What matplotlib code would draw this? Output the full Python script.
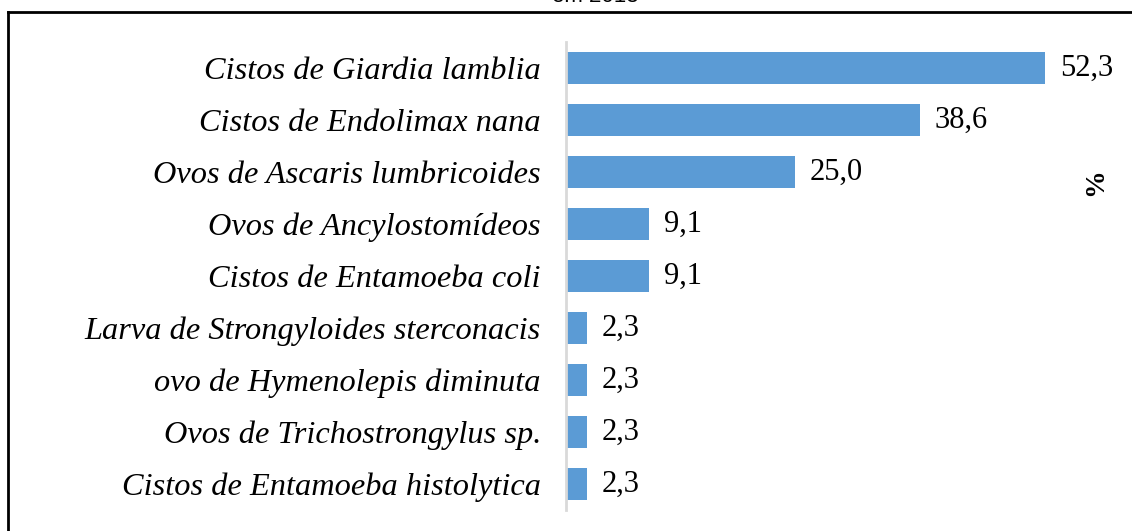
import matplotlib.pyplot as plt
from matplotlib.lines import Line2D

categorias = ["Cistos de Giardia lamblia", "Cistos de Endolimax nana",
              "Ovos de Ascaris lumbricoides", "Ovos de Ancylostomídeos",
              "Cistos de Entamoeba coli", "Larva de Strongyloides sterconacis",
              "ovo de Hymenolepis diminuta", "Ovos de Trichostrongylus sp.",
              "Cistos de Entamoeba histolytica"]
valores = [52.3, 38.6, 25.0, 9.1, 9.1, 2.3, 2.3, 2.3, 2.3]
rotulos = ["52,3", "38,6", "25,0", "9,1", "9,1", "2,3", "2,3", "2,3", "2,3"]

W, H = 1132, 531
fig = plt.figure(figsize=(W / 100, H / 100), dpi=100)

# axes placed in pixel terms
left, right, top, bottom = 566, 1116, 42, 510
ax = fig.add_axes([left / W, 1 - bottom / H, (right - left) / W, (bottom - top) / H])

y = list(range(len(categorias)))
ax.barh(y, valores, height=0.6, color="#5b9bd5")
ax.set_xlim(0, 60)
ax.set_ylim(len(categorias) - 0.5, -0.5)

for i, (v, r) in enumerate(zip(valores, rotulos)):
    ax.text(v + 1.6, i, r, va="center", ha="left", fontsize=22,
            family="Liberation Serif")

ax.set_yticks(y)
ax.set_yticklabels(categorias, fontsize=23.3, family="Liberation Serif", style="italic")
ax.tick_params(axis="y", length=0, pad=18)
ax.set_xticks([])
for s in ["top", "right", "bottom"]:
    ax.spines[s].set_visible(False)
ax.spines["left"].set_color("#d9d9d9")
ax.spines["left"].set_linewidth(2)

# "%" axis title on the right
fig.text(1096 / W, 1 - 182 / H, "%", rotation=90, ha="center", va="center",
         fontsize=20, family="Liberation Serif", weight="bold")

# cropped chart title at top
fig.text(595 / W, 1 + 3 / H, "em 2013", ha="center", va="center",
         fontsize=16, family="Liberation Sans")

# outer frame (partly cut off)
fig.add_artist(Line2D([8 / W, 1.0], [1 - 12 / H, 1 - 12 / H], color="black", lw=2,
                      transform=fig.transFigure))
fig.add_artist(Line2D([8 / W, 8 / W], [0, 1 - 12 / H], color="black", lw=2,
                      transform=fig.transFigure))

fig.savefig("out.png", dpi=100)
